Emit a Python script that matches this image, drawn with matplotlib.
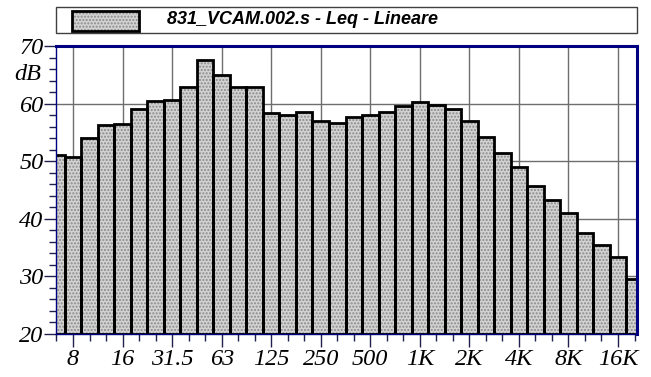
import numpy as np
import matplotlib
matplotlib.use('Agg')
import matplotlib.pyplot as plt
from matplotlib.patches import Rectangle

# third-octave bands 6.3 Hz .. 20 kHz
bands = ['6.3', '8', '10', '12.5', '16', '20', '25', '31.5', '40', '50', '63', '80',
         '100', '125', '160', '200', '250', '315', '400', '500', '630', '800',
         '1K', '1.25K', '1.6K', '2K', '2.5K', '3.15K', '4K', '5K', '6.3K', '8K',
         '10K', '12.5K', '16K', '20K']
leq = [51.1, 50.7, 54.0, 56.3, 56.5, 59.0, 60.5, 60.6, 62.8, 67.5, 65.0, 62.9,
       62.8, 58.3, 58.1, 58.6, 57.0, 56.7, 57.7, 58.1, 58.5, 59.6,
       60.2, 59.7, 59.1, 57.0, 54.2, 51.5, 49.0, 45.7, 43.2, 41.0,
       37.6, 35.5, 33.3, 29.5]
octave_labels = ['8', '16', '31.5', '63', '125', '250', '500', '1K', '2K', '4K', '8K', '16K']
legend_text = '831_VCAM.002.s - Leq - Lineare'

# italic serif everywhere (ticks, dB), set before anything is made
plt.rcParams['font.family'] = ['Liberation Serif', 'DejaVu Serif']
plt.rcParams['font.style'] = 'italic'
plt.rcParams['font.size'] = 17.5

W, H = 651, 377
fig = plt.figure(figsize=(W / 100, H / 100), dpi=100)
ax = fig.add_axes([56 / W, 1 - 334 / H, 581 / W, 288 / H])

x = np.arange(len(bands))
base = 20
heights = np.array(leq) - base

# dotted gray fill, then black outlines on top
ax.bar(x, heights, width=1.0, bottom=base, color='#d2d2d2', edgecolor='#8a8a8a',
       hatch='.....', linewidth=0, zorder=2)
ax.bar(x, heights, width=1.0, bottom=base, fill=False, edgecolor='black',
       linewidth=2, zorder=3)

ax.set_xlim(-0.03, 35.15)
ax.set_ylim(20, 70)

major_x = [bands.index(b) for b in octave_labels]
ax.set_xticks(major_x)
ax.set_xticklabels(octave_labels)
ax.set_xticks(x, minor=True)
yt = np.arange(20, 71, 10)
ax.set_yticks(yt)
ax.set_yticklabels([str(v) for v in yt])
ax.set_yticks(np.arange(20, 71, 2), minor=True)

ax.grid(True, which='major', color='#6e6e6e', linewidth=1, zorder=1)
ax.set_axisbelow(True)

ax.tick_params(axis='both', which='major', direction='out', length=9, width=1,
               color='#202050', labelsize=17.5)
ax.tick_params(axis='both', which='minor', direction='out', length=5, width=1,
               color='#202050')
ax.tick_params(axis='y', which='major', pad=0)
ax.tick_params(axis='x', which='major', pad=2)

for lab in ax.get_xticklabels() + ax.get_yticklabels():
    lab.set_fontstyle('italic')

navy = '#000080'
for s in ['left', 'bottom']:
    ax.spines[s].set_color(navy)
    ax.spines[s].set_linewidth(1)
for s in ['top', 'right']:
    ax.spines[s].set_color(navy)
    ax.spines[s].set_linewidth(2.2)
for sp in ax.spines.values():
    sp.set_zorder(5)

ax.text(-15 / 581, 65, 'dB', transform=ax.get_yaxis_transform(), ha='right',
        va='center', style='italic', size=17.5)

# legend box on top
fig.patches.append(Rectangle((56 / W, 1 - 33 / H), 581 / W, 26 / H,
                             transform=fig.transFigure, facecolor='white',
                             edgecolor='#404040', linewidth=1))
fig.patches.append(Rectangle((72 / W, 1 - 31 / H), 67 / W, 20 / H,
                             transform=fig.transFigure, facecolor='#d2d2d2',
                             edgecolor='#8a8a8a', hatch='.....', linewidth=0))
fig.patches.append(Rectangle((72 / W, 1 - 31 / H), 67 / W, 20 / H,
                             transform=fig.transFigure, fill=False,
                             edgecolor='black', linewidth=2))
fig.text(167 / W, 1 - 20 / H, legend_text, ha='left', va='center',
         family='Liberation Sans', weight='bold', style='italic', size=13)

fig.savefig('out.png', dpi=100)
